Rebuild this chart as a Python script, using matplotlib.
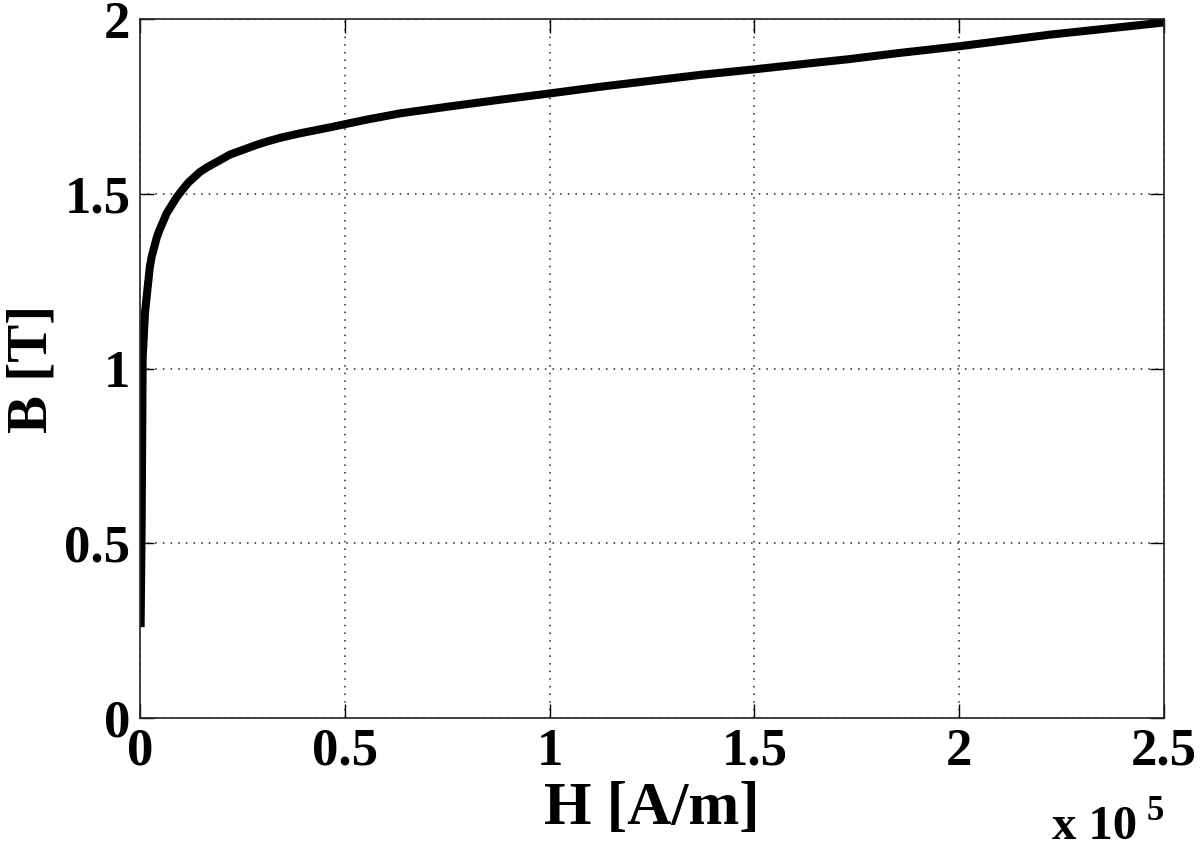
import matplotlib
matplotlib.use("Agg")
import matplotlib.pyplot as plt
from matplotlib.ticker import FuncFormatter

# Data (H in A/m, B in T)
H_values = [150, 400, 650, 1220, 2030, 2400, 2850, 4100, 4720, 6510, 8950,
            10600, 11800, 14600, 16280, 21970, 28480, 30900, 34200, 39100,
            47200, 55300, 63500, 75700, 87900, 100000, 112300, 124500,
            136700, 150000, 161000, 173000, 185500, 200000, 210000, 222000,
            234000, 250000]
B_values = [0.26, 0.55, 1.03, 1.16, 1.25, 1.29, 1.32, 1.375, 1.395, 1.444, 1.49,
            1.515, 1.532, 1.562, 1.575, 1.612, 1.640, 1.649, 1.660, 1.673,
            1.692, 1.712, 1.730, 1.750, 1.769, 1.787, 1.806, 1.823,
            1.840, 1.856, 1.870, 1.885, 1.903, 1.922, 1.937, 1.955,
            1.970, 1.99]
x_ticks = [0, 0.5e5, 1e5, 1.5e5, 2e5, 2.5e5]
y_ticks = [0, 0.5, 1, 1.5, 2]
x_label = "H [A/m]"
y_label = "B [T]"

plt.rcParams['font.family'] = ['Liberation Serif', 'DejaVu Serif']
plt.rcParams['font.weight'] = 'bold'

fig = plt.figure(figsize=(12, 8.49), dpi=100)
ax = fig.add_axes([140/1200, 131/849, 1024/1200, 699/849])

ax.plot(H_values, B_values, color='black', lw=5.8, solid_capstyle='butt',
        solid_joinstyle='round')

ax.set_xlim(0, 2.5e5)
ax.set_ylim(0, 2)
ax.set_xticks(x_ticks)
ax.set_yticks(y_ticks)
ax.xaxis.set_major_formatter(FuncFormatter(lambda v, p: f"{v/1e5:g}"))
ax.yaxis.set_major_formatter(FuncFormatter(lambda v, p: f"{v:g}"))
ax.tick_params(direction='in', length=10, width=1, top=True, right=True,
               labelsize=38, pad=7, colors='black')
for lab in ax.get_xticklabels() + ax.get_yticklabels():
    lab.set_fontweight('bold')
ax.grid(True, linestyle=(0, (1, 4)), color='#222222', lw=1.1)
for s in ax.spines.values():
    s.set_linewidth(1.2)
    s.set_color('#222222')

ax.set_xlabel(x_label, fontsize=44, fontweight='bold', labelpad=4)
ax.set_ylabel(y_label, fontsize=41, fontweight='bold', labelpad=4)

fig.text(1052/1200, 10/849, "x 10", fontsize=35, fontweight='bold', ha='left', va='baseline')
fig.text(1147/1200, 29/849, "5", fontsize=25, fontweight='bold', ha='left', va='baseline')

fig.savefig("out.png", dpi=100)
